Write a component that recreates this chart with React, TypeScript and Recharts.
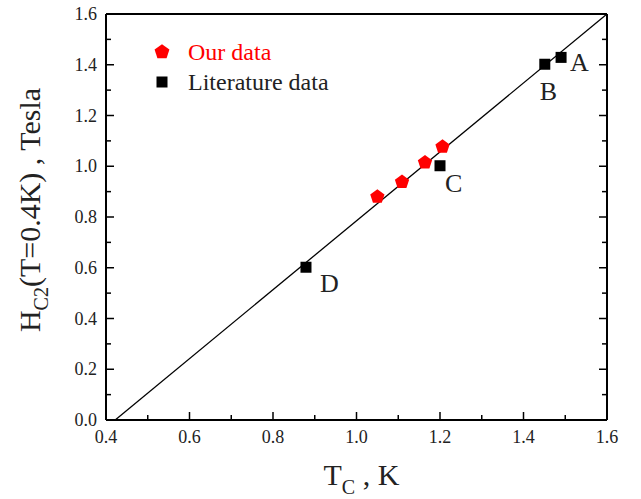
import { ScatterChart, Scatter, XAxis, YAxis, ReferenceLine, Legend } from 'recharts';

const FONT = '"Liberation Serif", "Times New Roman", serif';

const xTicks = [0.4, 0.5, 0.6, 0.7, 0.8, 0.9, 1.0, 1.1, 1.2, 1.3, 1.4, 1.5, 1.6];
const yTicks = [0, 0.1, 0.2, 0.3, 0.4, 0.5, 0.6, 0.7, 0.8, 0.9, 1.0, 1.1, 1.2, 1.3, 1.4, 1.5, 1.6];

// our samples
const ourTc = [1.05, 1.109, 1.164, 1.206];
const ourHc2 = [0.88, 0.938, 1.015, 1.077];

// literature points, labelled A..D
const litNames = ['A', 'B', 'C', 'D'];
const litTc = [1.49, 1.451, 1.2, 0.879];
const litHc2 = [1.429, 1.402, 1.002, 0.602];

// linear fit end points
const fitTc = [0.422, 1.6];
const fitHc2 = [0, 1.6];

const seriesNames = ['Our data', 'Literature data'];

const ourData = ourTc.map((tc, i) => ({ tc, hc: ourHc2[i] }));
const litData = litTc.map((tc, i) => ({ tc, hc: litHc2[i], name: litNames[i] }));

// where each letter sits relative to its square
const letterOffset: Record<string, [number, number]> = {
  A: [9, 14],
  B: [-5, 36],
  C: [5, 26],
  D: [14, 25],
};

const isMajor = (v: number) => Math.round(v * 10) % 2 === 0;

const pentagonPoints = (cx: number, cy: number, r: number) =>
  [0, 1, 2, 3, 4]
    .map((k) => {
      const a = ((-90 + 72 * k) * Math.PI) / 180;
      return `${cx + r * Math.cos(a)},${cy + r * Math.sin(a)}`;
    })
    .join(' ');

const Pentagon = (props: any) => <polygon points={pentagonPoints(props.cx, props.cy, 7.5)} fill="#ff0000" />;

const LitSquare = (props: any) => {
  const { cx, cy, payload } = props;
  const [dx, dy] = letterOffset[payload.name] ?? [8, 20];
  return (
    <g>
      <rect x={cx - 5.5} y={cy - 5.5} width={11} height={11} fill="#000" />
      <text x={cx + dx} y={cy + dy} fontSize={26} fontFamily={FONT} fill="#222">
        {payload.name}
      </text>
    </g>
  );
};

const BottomTick = ({ x, y, payload }: any) => {
  const v = payload.value;
  const major = isMajor(v);
  return (
    <g>
      <line x1={x} x2={x} y1={y} y2={y - (major ? 8 : 5)} stroke="#000" strokeWidth={1.5} />
      {major && (
        <text x={x} y={y + 23} textAnchor="middle" fontSize={18} fontFamily={FONT} fill="#222">
          {v.toFixed(1)}
        </text>
      )}
    </g>
  );
};

const TopTick = ({ x, y, payload }: any) => (
  <line x1={x} x2={x} y1={y} y2={y + (isMajor(payload.value) ? 8 : 5)} stroke="#000" strokeWidth={1.5} />
);

const LeftTick = ({ x, y, payload }: any) => {
  const v = payload.value;
  const major = isMajor(v);
  return (
    <g>
      <line x1={x} x2={x + (major ? 8 : 5)} y1={y} y2={y} stroke="#000" strokeWidth={1.5} />
      {major && (
        <text x={x - 9} y={y + 6} textAnchor="end" fontSize={18} fontFamily={FONT} fill="#222">
          {v.toFixed(1)}
        </text>
      )}
    </g>
  );
};

const RightTick = ({ x, y, payload }: any) => (
  <line x1={x} x2={x - (isMajor(payload.value) ? 8 : 5)} y1={y} y2={y} stroke="#000" strokeWidth={1.5} />
);

const XTitle = (props: any) => {
  const vb = props.viewBox;
  const tx = vb.x + vb.width / 2 - 33;
  const ty = vb.y + 65;
  return (
    <text x={tx} y={ty} fontSize={30} fontFamily={FONT} fill="#222">
      T
      <tspan dy={9} fontSize={20}>C</tspan>
      <tspan dy={-9}> , K</tspan>
    </text>
  );
};

const YTitle = (props: any) => {
  const vb = props.viewBox;
  const tx = vb.x + vb.width - 66;
  const ty = vb.y + vb.height / 2 - 7;
  return (
    <text x={tx} y={ty} transform={`rotate(-90 ${tx} ${ty})`} textAnchor="middle" fontSize={30} fontFamily={FONT} fill="#222">
      H
      <tspan dy={8} fontSize={20}>C2</tspan>
      <tspan dy={-8}>(T=0.4K) , Tesla</tspan>
    </text>
  );
};

const renderLegend = (props: any) => {
  const items = [...(props.payload ?? [])].sort(
    (a: any, b: any) => seriesNames.indexOf(a.value) - seriesNames.indexOf(b.value)
  );
  return (
    <div style={{ fontFamily: FONT, fontSize: 24, lineHeight: '30px' }}>
      {items.map((entry: any) => {
        const ours = entry.value === seriesNames[0];
        return (
          <div key={entry.value} style={{ display: 'flex', alignItems: 'center', height: 30 }}>
            <svg width={24} height={30} style={{ flexShrink: 0 }}>
              {ours ? (
                <polygon points={pentagonPoints(12, 15, 7.8)} fill="#ff0000" />
              ) : (
                <rect x={6.5} y={9.5} width={11} height={11} fill="#000" />
              )}
            </svg>
            <span style={{ marginLeft: 14, color: ours ? '#ff0000' : '#222', whiteSpace: 'nowrap' }}>{entry.value}</span>
          </div>
        );
      })}
    </div>
  );
};

export default function App() {
  return (
    <div style={{ position: 'absolute', left: 0, top: 0, background: '#fff' }}>
      <ScatterChart width={641} height={499} margin={{ top: 13, right: 33, bottom: 19, left: 46 }}>
        <XAxis
          type="number"
          dataKey="tc"
          domain={[0.4, 1.6]}
          ticks={xTicks}
          interval={0}
          height={60}
          tickSize={0}
          tickMargin={0}
          tickLine={false}
          tick={BottomTick}
          axisLine={{ stroke: '#000', strokeWidth: 2 }}
          allowDataOverflow
          label={XTitle}
        />
        <XAxis
          xAxisId="top"
          orientation="top"
          type="number"
          domain={[0.4, 1.6]}
          ticks={xTicks}
          interval={0}
          height={1}
          tickSize={0}
          tickMargin={0}
          tickLine={false}
          tick={TopTick}
          axisLine={{ stroke: '#000', strokeWidth: 2 }}
          allowDataOverflow
        />
        <YAxis
          type="number"
          dataKey="hc"
          domain={[0, 1.6]}
          ticks={yTicks}
          interval={0}
          width={60}
          tickSize={0}
          tickMargin={0}
          tickLine={false}
          tick={LeftTick}
          axisLine={{ stroke: '#000', strokeWidth: 2 }}
          allowDataOverflow
          label={YTitle}
        />
        <YAxis
          yAxisId="right"
          orientation="right"
          type="number"
          domain={[0, 1.6]}
          ticks={yTicks}
          interval={0}
          width={1}
          tickSize={0}
          tickMargin={0}
          tickLine={false}
          tick={RightTick}
          axisLine={{ stroke: '#000', strokeWidth: 2 }}
          allowDataOverflow
        />
        <ReferenceLine
          segment={[
            { x: fitTc[0], y: fitHc2[0] },
            { x: fitTc[1], y: fitHc2[1] },
          ]}
          stroke="#000"
          strokeWidth={1.3}
          ifOverflow="visible"
        />
        <Legend
          layout="vertical"
          align="center"
          verticalAlign="middle"
          content={renderLegend}
          wrapperStyle={{ left: 150, top: 37, width: 'auto', height: 'auto' }}
        />
        <Scatter name={seriesNames[0]} data={ourData} fill="#ff0000" shape={Pentagon} isAnimationActive={false} />
        <Scatter name={seriesNames[1]} data={litData} fill="#000" shape={LitSquare} isAnimationActive={false} />
      </ScatterChart>
    </div>
  );
}
